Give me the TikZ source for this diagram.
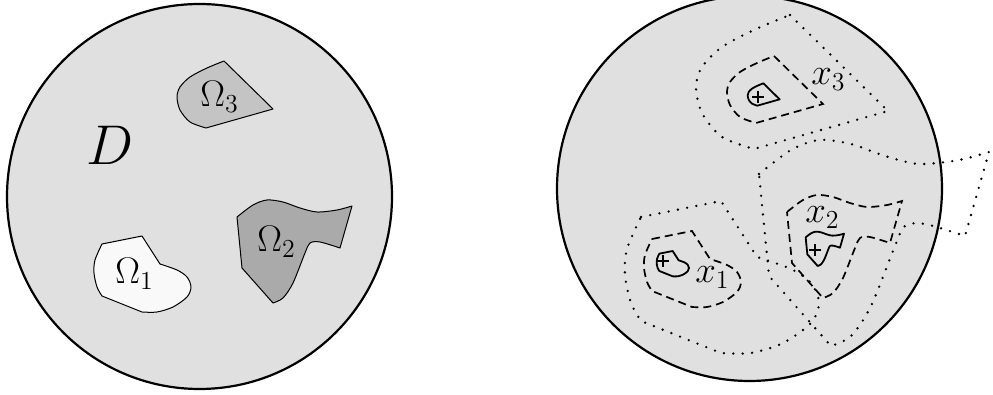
\RequirePackage{fix-cm}
\documentclass[tikz,border=0pt]{standalone}
\definecolor{bgc}{RGB}{224,224,224}
\definecolor{omA}{RGB}{249,249,249}
\definecolor{omB}{RGB}{170,170,170}
\definecolor{omC}{RGB}{196,196,196}
\newcommand{\OmOnePath}{(-11,-22) -- (29,-30) -- (47,-2) -- plot[smooth] coordinates {(47,-2) (64,4) (74,11) (78,21) (74,31) (60,41) (44,46) (29,46)} -- (-11,30) -- plot[smooth] coordinates {(-11,30) (-16,21) (-19,7) (-18,-6) (-11,-22)} -- cycle}
\newcommand{\OmTwoPath}{(-28,-38) -- plot[smooth] coordinates {(-28,-38) (-12,-50) (2,-55) (18,-53) (35,-47) (52,-43) (72,-45) (87,-49)} -- (75,-7) -- plot[smooth] coordinates {(75,-7) (55,-13) (45,-12) (40,-2) (28,28) (18,43) (8,48)} -- (-23,13) -- cycle}
\newcommand{\OmThreePath}{(16,-41) -- (65,7) -- (-2,26) -- plot[smooth] coordinates {(-2,26) (-18,20) (-28,8) (-31,-5) (-28,-15) (-18,-25) (-1,-34) (16,-41)} -- cycle}
\begin{document}
\begin{tikzpicture}[x=0.5pt,y=-0.5pt,
  disk/.style={draw=black, line width=1.1pt, fill=bgc},
  omega/.style={draw=black, line width=0.5pt, line join=round},
  lbl/.style={inner sep=0pt, anchor=base west, font=\fontsize{18.5}{20}\selectfont},
  hole/.style={draw=black, line width=0.9pt, line join=round},
  midline/.style={draw=black, line width=0.85pt, dash pattern=on 4pt off 2.5pt},
  farline/.style={draw=black, line width=1.3pt, line cap=round, dash pattern=on 0pt off 4.7pt},
  crossmark/.style={draw=black, line width=0.75pt}]
\useasboundingbox (0,0) rectangle (993,395);
% left picture
\coordinate (cL) at (199.5,196.5);
\draw[disk] (cL) circle[radius=96.25pt];
\draw[omega, fill=omA, shift={(113,266)}] \OmOnePath;
\draw[omega, fill=omB, shift={(265,255)}] \OmTwoPath;
\draw[omega, fill=omC, shift={(208,102)}] \OmThreePath;
\node[inner sep=0pt, anchor=base west, font=\fontsize{28}{30}\selectfont] (D) at (86,165) {$D$};
\node[lbl] (o1) at (115,284) {$\Omega_1$};
\node[lbl] (o2) at (257,252) {$\Omega_2$};
\node[lbl] (o3) at (200,107) {$\Omega_3$};
% right picture
\coordinate (cR) at (749.5,188.5);
\draw[disk] (cR) circle[radius=96.25pt];
\coordinate (x1) at (663,261);
\coordinate (x2) at (815,250);
\coordinate (x3) at (758,97);
\begin{scope}[shift={(x1)}]
  \draw[midline] \OmOnePath;
  \draw[farline, scale=2] \OmOnePath;
  \draw[hole, scale=0.3333] \OmOnePath;
  \draw[crossmark] (-6,0) -- (6,0) (0,-6) -- (0,6);
\end{scope}
\begin{scope}[shift={(x2)}]
  \draw[midline] \OmTwoPath;
  \draw[farline, scale=2] \OmTwoPath;
  \draw[hole, scale=0.3333] \OmTwoPath;
  \draw[crossmark] (-6,0) -- (6,0) (0,-6) -- (0,6);
\end{scope}
\begin{scope}[shift={(x3)}]
  \draw[midline] \OmThreePath;
  \draw[farline, scale=2] \OmThreePath;
  \draw[hole, scale=0.3333] \OmThreePath;
  \draw[crossmark] (-6,0) -- (6,0) (0,-6) -- (0,6);
\end{scope}
\node[lbl] (l1) at (695,283) {$x_1$};
\node[lbl] (l2) at (805,223) {$x_2$};
\node[lbl] (l3) at (811,85) {$x_3$};
\end{tikzpicture}
\end{document}
